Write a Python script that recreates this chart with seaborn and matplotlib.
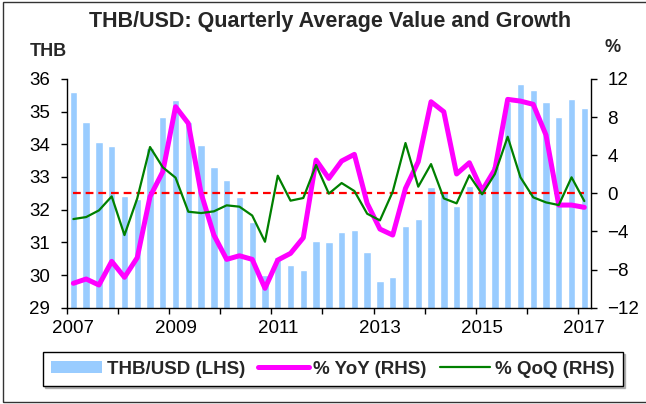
import pandas as pd
import matplotlib
matplotlib.use("Agg")
import matplotlib.pyplot as plt
import seaborn as sns
from matplotlib.patches import Patch, Rectangle
from matplotlib.lines import Line2D

# ---------------- DATA ----------------
quarters = [f"{y}Q{q}" for y in range(2007, 2018) for q in range(1, 5)][:41]

thb = [35.59, 34.68, 34.07, 33.94, 32.43, 32.33, 33.90, 34.84, 35.36, 34.68,
       33.97, 33.31, 32.90, 32.40, 31.62, 29.99, 30.55, 30.31, 30.14, 31.04,
       31.00, 31.33, 31.39, 30.70, 29.83, 29.93, 31.51, 31.70, 32.68, 32.53,
       32.12, 32.72, 32.69, 33.35, 35.30, 35.85, 35.66, 35.30, 34.84, 35.40,
       35.11]

yoy = [-9.44, -8.99, -9.62, -7.14, -8.81, -6.75, -0.35, 2.27, 9.09, 7.34,
       0.00, -4.38, -6.93, -6.55, -6.93, -9.97, -7.00, -6.30, -4.66, 3.49,
       1.57, 3.39, 4.09, -1.05, -3.75, -4.38, 0.52, 3.32, 9.61, 8.56,
       2.03, 3.21, 0.28, 2.52, 9.86, 9.68, 9.34, 6.12, -1.23, -1.23,
       -1.47]

qoq = [-2.70, -2.49, -1.79, -0.32, -4.38, -0.53, 4.86, 2.73, 1.64, -1.93,
       -2.07, -1.89, -1.26, -1.40, -2.33, -5.08, 1.85, -0.77, -0.49, 2.97,
       -0.03, 1.08, 0.24, -2.14, -2.84, 0.17, 5.28, 0.70, 3.07, -0.53,
       -1.05, 1.89, -0.10, 2.03, 5.94, 1.68, -0.42, -0.95, -1.23, 1.68,
       -0.81]

year_labels = ["2007", "2009", "2011", "2013", "2015", "2017"]
left_ticks = [29, 30, 31, 32, 33, 34, 35, 36]
right_ticks = [-12, -8, -4, 0, 4, 8, 12]

df = pd.DataFrame({"quarter": quarters, "thb": thb, "yoy": yoy, "qoq": qoq})
df["pos"] = range(len(df))

BLUE = "#99CCFF"
MAGENTA = "#FF00FF"
GREEN = "#008000"
RED = "#FF0000"

# ---------------- STYLE ----------------
sns.set_style("white")
plt.rcParams["font.family"] = ["Liberation Sans", "DejaVu Sans"]

fig = plt.figure(figsize=(6.46, 4.04), dpi=100)
ax = fig.add_axes([0.1037, 0.2384, 0.8107, 0.5661])

# ---------------- BARS (LHS) ----------------
sns.barplot(data=df, x="pos", y="thb", color=BLUE, saturation=1,
            width=0.58, ax=ax, zorder=1)
ax.set_ylim(29, 36)
ax.set_xlim(-0.5, len(df) - 0.5)
ax.set_xlabel("")
ax.set_ylabel("")
ax.set_yticks(left_ticks)

# ---------------- LINES (RHS) ----------------
ax2 = ax.twinx()
ax2.hlines(0, df["pos"].min(), df["pos"].max(), colors=RED,
           linestyles=(0, (3.5, 2.2)), linewidth=1.6, zorder=1)
sns.lineplot(data=df, x="pos", y="yoy", color=MAGENTA, linewidth=3.6,
             ax=ax2, zorder=2)
sns.lineplot(data=df, x="pos", y="qoq", color=GREEN, linewidth=1.6,
             ax=ax2, zorder=3)
ax2.set_ylim(-12, 12)
ax2.set_yticks(right_ticks)
ax2.set_xlim(-0.5, len(df) - 0.5)
ax2.set_xlabel("")
ax2.set_ylabel("")

# ---------------- AXES / TICKS ----------------
for s in ["top", "right"]:
    ax.spines[s].set_visible(False)
for s in ["top", "left", "bottom"]:
    ax2.spines[s].set_visible(False)
for sp in [ax.spines["left"], ax.spines["bottom"], ax2.spines["right"]]:
    sp.set_color("black")
    sp.set_linewidth(1.0)

boundaries = [p - 0.5 for p in df["pos"] if p % 4 == 0]
ax.set_xticks(boundaries)
ax.set_xticklabels([""] * len(boundaries))
ax.set_xticks(list(df["pos"][::8]), minor=True)
ax.set_xticklabels(year_labels, minor=True)
ax.tick_params(axis="x", which="major", bottom=True, direction="out",
               length=4, width=1, color="black")
ax.tick_params(axis="x", which="minor", bottom=True, length=0, pad=9,
               labelsize=13.5, labelcolor="black")
ax.tick_params(axis="y", left=True, direction="out", length=4, width=1,
               color="black", pad=8, labelsize=13.5, labelcolor="black")
ax2.tick_params(axis="y", right=True, direction="out", length=4, width=1,
                color="black", pad=8, labelsize=13.5, labelcolor="black")

# ---------------- TEXT ----------------
fig.text(330 / 646, 1 - 22 / 404, "THB/USD: Quarterly Average Value and Growth",
         ha="center", va="center", fontsize=15.5, fontweight="bold")
fig.text(48 / 646, 1 - 52 / 404, "THB", ha="center", va="center",
         fontsize=13, fontweight="bold")
fig.text(613 / 646, 1 - 47 / 404, "%", ha="center", va="center",
         fontsize=13, fontweight="bold")

# ---------------- LEGEND ----------------
handles = [Patch(facecolor=BLUE, edgecolor="none"),
           Line2D([], [], color=MAGENTA, linewidth=3.6),
           Line2D([], [], color=GREEN, linewidth=1.6)]
labels = ["THB/USD (LHS)", "% YoY (RHS)", "% QoQ (RHS)"]
leg = fig.legend(handles, labels, loc="center",
                 bbox_to_anchor=(333 / 646, 1 - 369 / 404), ncol=3,
                 frameon=True, fancybox=False,
                 shadow={"ox": 1.5, "oy": -1.5, "color": "0.55", "alpha": 0.6},
                 prop={"weight": "bold", "size": 13.5},
                 handlelength=2.7, handleheight=0.6, handletextpad=0.25,
                 columnspacing=0.7, borderpad=0.45)
leg.get_frame().set_edgecolor("black")
leg.get_frame().set_linewidth(1.0)

# outer frame
fig.add_artist(Rectangle((0.005, 0.006), 1.0, 0.988, transform=fig.transFigure,
                         fill=False, edgecolor="#333333", linewidth=1.0))

fig.savefig("out.png", dpi=100)
